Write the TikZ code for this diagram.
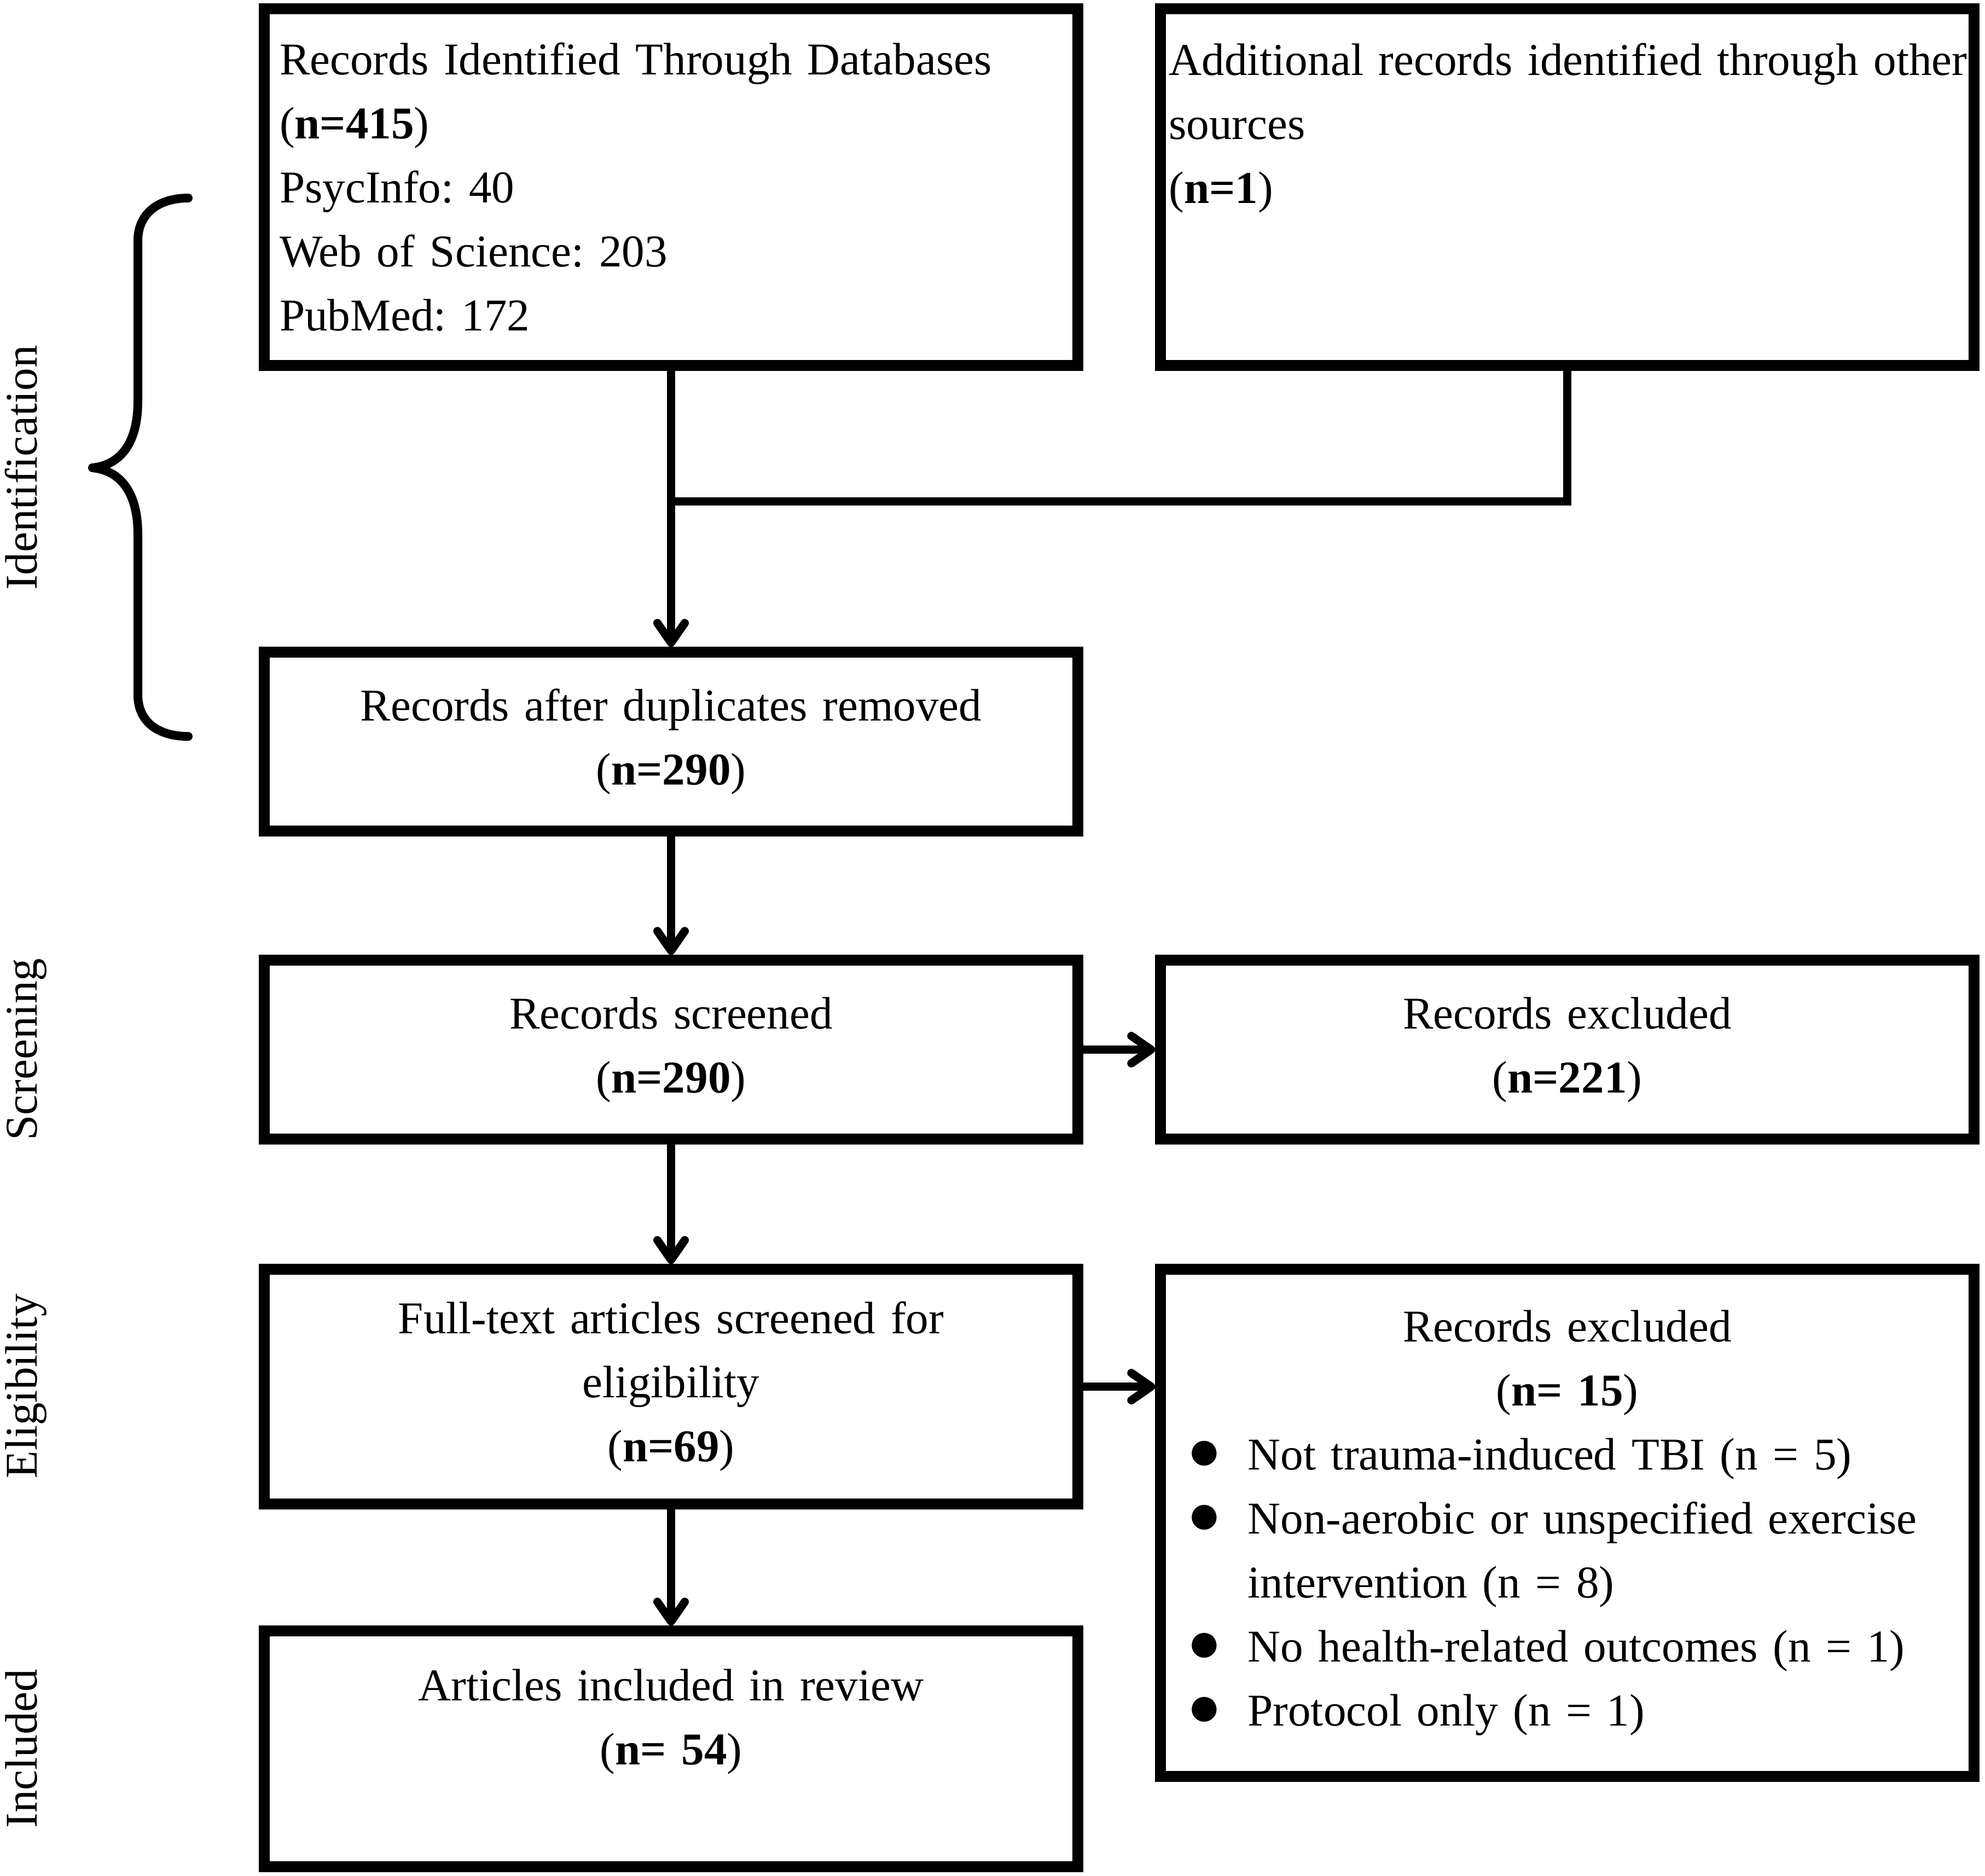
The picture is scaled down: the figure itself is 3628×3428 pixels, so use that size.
\documentclass[tikz,border=0pt]{standalone}
\usepackage{fontspec}
\setmainfont{Liberation Serif}
\usetikzlibrary{arrows.meta}

% bullet lines of the exclusion list
\newcommand{\bitem}[1]{\makebox[145.6mm][l]{\hspace{3.3mm}\makebox[11.1mm][l]{\fontsize{30}{30}\selectfont ●}#1}}
\newcommand{\bcont}[1]{\makebox[145.6mm][l]{\hspace{14.4mm}#1}}

\begin{document}
\frenchspacing
\begin{tikzpicture}[x=0.1mm, y=-0.1mm,
	font=\fontsize{23.65}{33.3}\selectfont,
	box/.style={draw, line width=1.95mm, inner sep=0pt, minimum width=148.7mm, text width=145.6mm, align=center},
	lbox/.style={box, align=left},
	conn/.style={line width=1.5mm},
	arr/.style={conn, -{Straight Barb[length=3.6mm, width=5mm, round]}},
	phase/.style={rotate=90, anchor=base}]

\useasboundingbox (0,0) rectangle (3628,3428);

% identification
\node[lbox, minimum height=65.2mm, text width=143.1mm] (dbrec) at (1226.5,342) {Records Identified Through Databases\\ (\textbf{n=415})\\ PsycInfo: 40\\ Web of Science: 203\\ PubMed: 172};
\node[lbox, minimum height=65.2mm] (other) at (2864.5,342) {\mbox{Additional records identified through other}\\ sources\\ (\textbf{n=1})\\ ~\\ ~};
\node[box, minimum height=32.7mm] (dedup) at (1226.5,1355.5) {Records after duplicates removed\\ (\textbf{n=290})};

% screening
\node[box, minimum height=32.7mm] (screened) at (1226.5,1918.5) {Records screened\\ (\textbf{n=290})};
\node[box, minimum height=32.7mm] (excl1) at (2864.5,1918.5) {Records excluded\\ (\textbf{n=221})};

% eligibility
\node[box, minimum height=42.9mm] (fulltext) at (1226.5,2534.5) {Full-text articles screened for\\ eligibility\\ (\textbf{n=69})};
\node[box, minimum height=92.7mm] (excl2) at (2864.5,2783.5) {Records excluded\\ (\textbf{n= 15})\\
	\bitem{Not trauma-induced TBI (n = 5)}\\
	\bitem{Non-aerobic or unspecified exercise}\\
	\bcont{intervention (n = 8)}\\
	\bitem{No health-related outcomes (n = 1)}\\
	\bitem{Protocol only (n = 1)}};

% included
\node[box, minimum height=43.1mm] (incl) at (1226.5,3196.5) {Articles included in review\\ (\textbf{n= 54})\\ ~};

% connectors
\coordinate (merge) at (1226.5,916);
\draw[conn] (other.south) |- (merge);
\draw[arr] (dbrec.south) -- (dedup.north);
\draw[arr] (dedup.south) -- (screened.north);
\draw[arr] (screened.east) -- (excl1.west);
\draw[arr] (screened.south) -- (fulltext.north);
\draw[arr] (fulltext.east) -- (fulltext.east -| excl2.west);
\draw[arr] (fulltext.south) -- (incl.north);

% brace
\draw[line width=1.6mm, line cap=round, line join=round] (344,362) .. controls (290,362) and (252,390) .. (252,440) -- (252,733)
	.. controls (252,810) and (220,850) .. (169,855)
	.. controls (220,860) and (252,900) .. (252,977) -- (252,1270)
	.. controls (252,1320) and (290,1346) .. (344,1346);

% phase labels
\node[phase] (lid) at (67,855) {Identification};
\node[phase] (lscr) at (67,1918) {Screening};
\node[phase] (lel) at (67,2534) {Eligibility};
\node[phase] (linc) at (67,3196) {Included};

\end{tikzpicture}
\end{document}
